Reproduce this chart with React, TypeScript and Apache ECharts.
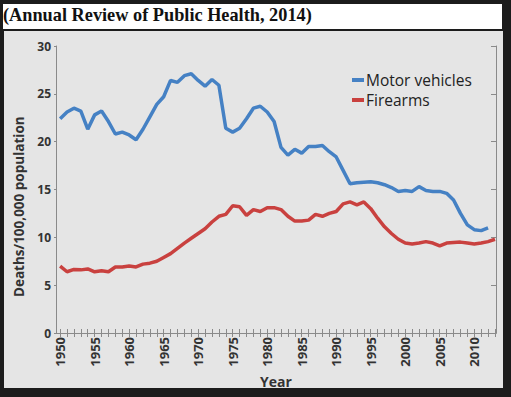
import React, { useEffect, useRef } from "react";
import * as echarts from "echarts";

const years: number[] = [];
for (let y = 1950; y <= 2013; y++) years.push(y);

const motorVehicles = [
  22.4, 23.1, 23.5, 23.2, 21.3, 22.8, 23.2, 22.1, 20.8, 21.0,
  20.7, 20.2, 21.3, 22.6, 23.9, 24.7, 26.4, 26.2, 26.9, 27.1,
  26.4, 25.8, 26.5, 25.9, 21.4, 21.0, 21.4, 22.4, 23.5, 23.7,
  23.1, 22.1, 19.4, 18.6, 19.2, 18.8, 19.5, 19.5, 19.6, 18.95,
  18.4, 17.0, 15.6, 15.7, 15.75, 15.8, 15.7, 15.5, 15.2, 14.8,
  14.9, 14.8, 15.3, 14.9, 14.8, 14.8, 14.6, 13.9, 12.5, 11.3,
  10.8, 10.7, 11.0,
];

const firearms = [
  7.0, 6.4, 6.65, 6.6, 6.7, 6.4, 6.5, 6.4, 6.9, 6.9,
  7.0, 6.9, 7.2, 7.3, 7.5, 7.9, 8.3, 8.85, 9.4, 9.9,
  10.4, 10.9, 11.6, 12.2, 12.4, 13.3, 13.2, 12.3, 12.9, 12.7,
  13.1, 13.1, 12.9, 12.2, 11.7, 11.7, 11.8, 12.4, 12.2, 12.5,
  12.7, 13.5, 13.7, 13.4, 13.7, 13.0, 12.0, 11.1, 10.4, 9.8,
  9.4, 9.3, 9.4, 9.55, 9.4, 9.1, 9.4, 9.45, 9.5, 9.4,
  9.3, 9.4, 9.55, 9.8,
];

const xLabelYears = [1950, 1955, 1960, 1965, 1970, 1975, 1980, 1985, 1990, 1995, 2000, 2005, 2010];
const xTickYears = years.slice(0, 64);

const seriesNames = ["Motor vehicles", "Firearms"];
const titleText = "(Annual Review of Public Health, 2014)";
const yTitle = "Deaths/100,000 population";

const BLUE = "#4581c4";
const RED = "#c9413f";
const AXIS = "#8a8a8a";
const SANS = "'Open Sans', 'Noto Sans', sans-serif";

export default function App() {
  const ref = useRef<HTMLDivElement>(null);
  useEffect(() => {
    if (!ref.current) return;
    const chart = echarts.init(ref.current, undefined, { renderer: "svg" });
    const mv = motorVehicles.map((v, i) => [years[i], v]);
    const fa = firearms.map((v, i) => [years[i], v]);
    const xMin = 1949.4;
    const xMax = 2013.15;
    chart.setOption({
      animation: false,
      backgroundColor: "#1c1c1c",
      graphic: [
        { type: "rect", z: -10, shape: { x: 4, y: 31, width: 499, height: 357 }, style: { fill: "#e5e5e5" } },
        { type: "rect", z: -10, shape: { x: 3, y: 4, width: 499, height: 25 }, style: { fill: "#ffffff" } },
        {
          type: "text", x: 3, y: 6, z: 5,
          style: { text: titleText, font: "bold 18.3px 'Liberation Serif', serif", fill: "#111" },
        },
        {
          type: "text", x: 19, y: 297, rotation: Math.PI / 2, z: 5,
          style: {
            text: yTitle, font: `bold 13.5px ${SANS}`, fill: "#333",
            align: "left", verticalAlign: "middle",
          },
        },
      ],
      grid: { left: 56, top: 46, right: 15, bottom: 64, containLabel: false },
      legend: {
        data: seriesNames,
        orient: "vertical",
        left: 347,
        top: 67,
        icon: "rect",
        itemWidth: 12,
        itemHeight: 4,
        itemGap: 4,
        textStyle: { fontFamily: SANS, fontSize: 15.5, color: "#222", padding: [0, 0, 0, -3] },
      },
      xAxis: [
        {
          type: "value", min: xMin, max: xMax, position: "bottom",
          name: "Year", nameLocation: "middle", nameGap: 39,
          nameTextStyle: { fontFamily: SANS, fontSize: 14, fontWeight: "bold", color: "#333" },
          axisLine: { show: true, lineStyle: { color: AXIS, width: 1 } },
          axisTick: { show: true, inside: true, length: 4, customValues: xTickYears, lineStyle: { color: AXIS } },
          axisLabel: {
            customValues: xLabelYears, rotate: 90, margin: 4,
            formatter: (v: number) => String(Math.round(v)),
            fontFamily: SANS, fontSize: 13, fontWeight: "bold", color: "#333",
          },
          splitLine: { show: false },
        },
        {
          type: "value", min: xMin, max: xMax, position: "top",
          axisLine: { show: true, lineStyle: { color: AXIS, width: 1 } },
          axisTick: { show: true, inside: true, length: 4, customValues: xTickYears, lineStyle: { color: AXIS } },
          axisLabel: { show: false },
          splitLine: { show: false },
        },
      ],
      yAxis: [
        {
          type: "value", min: 0, max: 30, interval: 5, position: "left",
          axisLine: { show: true, lineStyle: { color: AXIS, width: 1 } },
          axisTick: { show: true, length: 2, lineStyle: { color: AXIS } },
          axisLabel: { margin: 5, fontFamily: SANS, fontSize: 12, fontWeight: "bold", color: "#333" },
          splitLine: { show: false },
        },
        {
          type: "value", min: 0, max: 30, interval: 5, position: "right",
          axisLine: { show: true, lineStyle: { color: AXIS, width: 1 } },
          axisTick: { show: true, inside: true, length: 5, lineStyle: { color: AXIS } },
          axisLabel: { show: false },
          splitLine: { show: false },
        },
      ],
      series: [
        {
          name: seriesNames[0], type: "line", data: mv, showSymbol: false, symbol: "none",
          lineStyle: { color: BLUE, width: 3.5 }, itemStyle: { color: BLUE }, z: 3,
        },
        {
          name: seriesNames[1], type: "line", data: fa, showSymbol: false, symbol: "none",
          lineStyle: { color: RED, width: 3.5 }, itemStyle: { color: RED }, z: 4,
        },
      ],
    });
    return () => chart.dispose();
  }, []);
  return <div ref={ref} style={{ position: "fixed", left: 0, top: 0, width: 511, height: 397 }} />;
}
